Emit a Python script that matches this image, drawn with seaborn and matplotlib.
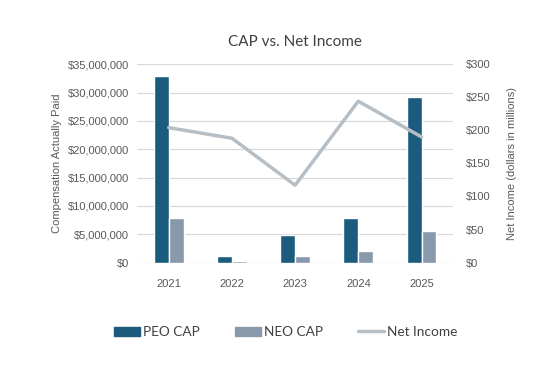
import pandas as pd
import seaborn as sns
import matplotlib.pyplot as plt
import numpy as np
from matplotlib.patches import Patch
from matplotlib.lines import Line2D
from matplotlib.ticker import FuncFormatter

# Data
years = ['2021', '2022', '2023', '2024', '2025']
peo_cap = [32900000, 1200000, 4900000, 7900000, 29200000]
neo_cap = [7900000, 300000, 1200000, 2100000, 5500000]
net_income = [204, 188, 117, 244, 190]  # dollars in millions

# Colours
peo_color = '#1b5c7e'
neo_color = '#8799ab'
line_color = '#b6bec6'
text_color = '#595959'

sns.set_style('white')
plt.rcParams['font.family'] = ['Liberation Sans', 'DejaVu Sans']

# Long format for the grouped bars
df = pd.DataFrame({'year': years, 'PEO CAP': peo_cap, 'NEO CAP': neo_cap})
df_bar = pd.melt(df, id_vars=['year'], value_vars=['PEO CAP', 'NEO CAP'],
                 var_name='series', value_name='cap')

fig = plt.figure(figsize=(5.42, 3.73), dpi=100)
ax = fig.add_axes([0.253, 0.296, 0.583, 0.532])

sns.barplot(data=df_bar, x='year', y='cap', hue='series', ax=ax,
            palette=[peo_color, neo_color], width=0.47, saturation=1,
            legend=False, zorder=3)

ax.set_ylim(0, 35000000)
ax.set_yticks(np.arange(0, 35000001, 5000000))
ax.yaxis.set_major_formatter(FuncFormatter(lambda v, p: '${:,.0f}'.format(v)))
ax.grid(axis='y', color='#d9d9d9', linewidth=0.9, zorder=0)
ax.set_xlabel('')
ax.set_ylabel('Compensation Actually Paid', color=text_color, fontsize=8, labelpad=4)
ax.tick_params(axis='both', length=0, labelsize=8, labelcolor=text_color, pad=6)
ax.tick_params(axis='x', pad=12)
for s in ax.spines.values():
    s.set_visible(False)

# Net income on the right axis
ax2 = ax.twinx()
sns.lineplot(x=np.arange(len(years)), y=net_income, ax=ax2, color=line_color,
             linewidth=2.5, zorder=4)
ax2.set_ylim(0, 300)
ax2.set_yticks(np.arange(0, 301, 50))
ax2.yaxis.set_major_formatter(FuncFormatter(lambda v, p: '${:,.0f}'.format(v)))
ax2.set_ylabel('Net Income (dollars in millions)', color=text_color, fontsize=8, labelpad=12)
ax2.tick_params(axis='y', length=0, labelsize=8, labelcolor=text_color, pad=9)
for s in ax2.spines.values():
    s.set_visible(False)
ax.set_xlim(-0.5, len(years) - 0.5)

fig.text(0.545, 0.887, 'CAP vs. Net Income', ha='center', va='center',
         fontsize=11, color='#404040', family=['Lato', 'DejaVu Sans'])

handles = [Patch(color=peo_color), Patch(color=neo_color),
           Line2D([0], [0], color=line_color, linewidth=2.5)]
fig.legend(handles, ['PEO CAP', 'NEO CAP', 'Net Income'], loc='center',
           bbox_to_anchor=(0.527, 0.11), ncol=3, frameon=False,
           prop={'family': ['Lato', 'DejaVu Sans'], 'size': 9.8},
           labelcolor='#404040', handlelength=1.9, handleheight=0.65,
           handletextpad=0.2, columnspacing=2.6)

fig.savefig('out.png', dpi=100)
